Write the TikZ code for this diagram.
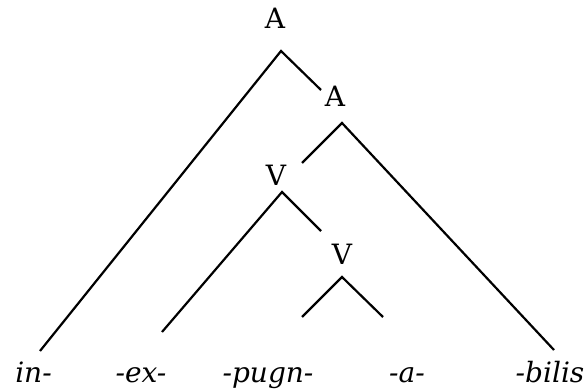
\documentclass[tikz,border=0pt]{standalone}
\usepackage{fontspec}
\setmainfont{DejaVu Serif}
\begin{document}
\begin{tikzpicture}[x=1pt,y=-1pt,
  cat/.style={anchor=base,inner sep=0pt,font=\fontsize{28}{30}\selectfont},
  word/.style={anchor=base,inner sep=0pt,font=\fontsize{28}{30}\selectfont\itshape},
  branch/.style={line width=2.2pt,line join=miter}]
\useasboundingbox (0,0) rectangle (585,390);
% category labels
\node[cat] (A1) at (275,29) {A};
\node[cat] (A2) at (335,107) {A};
\node[cat] (V1) at (276,185) {V};
\node[cat] (V2) at (342,264) {V};
% words
\node[word] (w1) at (33.5,382) {in-};
\node[word] (w2) at (141,382) {-ex-};
\node[word] (w3) at (268,382) {-pugn-};
\node[word] (w4) at (407,382) {-a-};
\node[word] (w5) at (550,382) {-bilis};
% branch points
\coordinate (pA1) at (281,51);
\coordinate (eA1l) at (40,351);
\coordinate (eA1r) at (321,90);
\coordinate (pA2) at (342,123);
\coordinate (eA2l) at (302,163);
\coordinate (eA2r) at (554,350);
\coordinate (pV1) at (282,192);
\coordinate (eV1l) at (162,332);
\coordinate (eV1r) at (321,231);
\coordinate (pV2) at (342,277);
\coordinate (eV2l) at (302,317);
\coordinate (eV2r) at (383,317);
% branches
\draw[branch] (eA1l) -- (pA1) -- (eA1r);
\draw[branch] (eA2l) -- (pA2) -- (eA2r);
\draw[branch] (eV1l) -- (pV1) -- (eV1r);
\draw[branch] (eV2l) -- (pV2) -- (eV2r);
\end{tikzpicture}
\end{document}
